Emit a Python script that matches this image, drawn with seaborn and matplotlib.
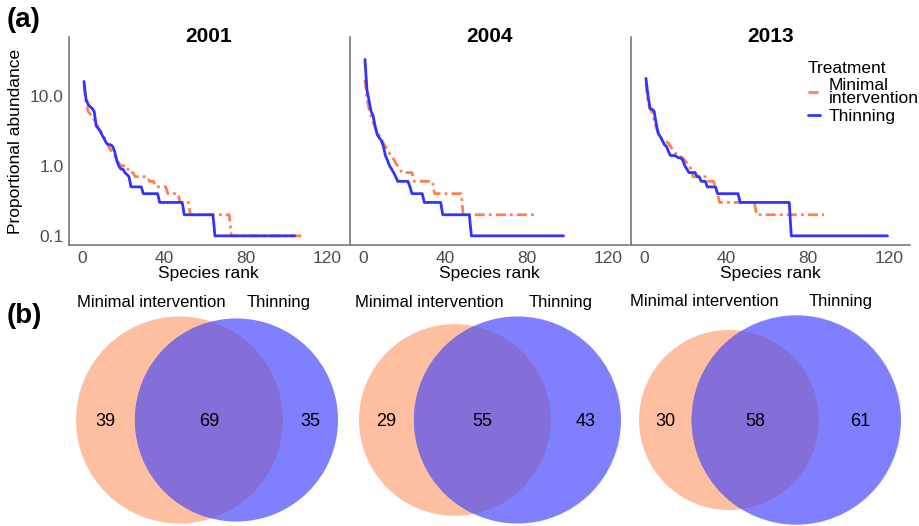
import numpy as np
import pandas as pd
import matplotlib
matplotlib.use("Agg")
import matplotlib.pyplot as plt
from matplotlib.lines import Line2D
from matplotlib.patches import Circle
from matplotlib.ticker import NullLocator
import seaborn as sns

# ==========================
# DATA
# ==========================

years = ["2001", "2004", "2013"]
treatments = ["Minimal intervention", "Thinning"]

# proportional abundance (%) in rank order, stored as a value and
# the number of consecutive species that share it

mi_2001_abund = [14, 8, 6.0, 5.5, 5.2, 4.5, 4.0, 3.5, 3.2, 2.8, 2.5, 2.2, 1.9, 1.7, 1.5, 1.4, 1.2, 1.1,
                 1.0, 0.8, 0.7, 0.6, 0.5, 0.4, 0.3, 0.2, 0.1]
mi_2001_nsp = [1] * 18 + [4, 3, 7, 3, 6, 6, 5, 20, 36]

th_2001_abund = [16, 9.0, 7.5, 7.0, 6.6, 6.0, 3.7, 3.4, 3.1, 2.7, 2.4, 2.1, 2.0, 2.0, 1.9, 1.6, 1.2, 1.0,
                 0.9, 0.9, 0.8, 0.75, 0.7, 0.5, 0.4, 0.3, 0.2, 0.1]
th_2001_nsp = [1] * 23 + [6, 8, 12, 15, 40]

mi_2004_abund = [17, 9, 6.5, 5.0, 4.2, 3.6, 3.1, 2.7, 2.4, 2.1, 1.9, 1.7, 1.5, 1.4, 1.25, 1.1, 1.0, 0.9,
                 0.8, 0.6, 0.4, 0.2]
mi_2004_nsp = [1] * 18 + [6, 10, 14, 36]

th_2004_abund = [33, 12, 8.5, 6.0, 5.2, 3.6, 2.8, 2.5, 2.3, 1.9, 1.4, 1.2, 1.0, 0.9, 0.8, 0.7,
                 0.6, 0.5, 0.4, 0.3, 0.2, 0.1]
th_2004_nsp = [1] * 16 + [6, 1, 6, 9, 14, 46]

mi_2013_abund = [15, 8, 6.5, 5.8, 4.5, 3.5, 3.0, 2.6, 2.4, 2.3, 2.2, 2.1, 1.9, 1.7, 1.55, 1.45, 1.38, 1.35,
                 1.3, 1.2, 1.1, 1.0, 0.9, 0.7, 0.6, 0.5, 0.4, 0.3, 0.2]
mi_2013_nsp = [1] * 23 + [7, 4, 1, 1, 18, 34]

th_2013_abund = [17.7, 10, 6.6, 6.4, 6.0, 4.0, 2.9, 2.6, 2.3, 2.0, 1.9, 1.6, 1.4, 1.4, 1.4, 1.35, 1.3, 1.3,
                 1.2, 1.0, 0.9, 0.8, 0.7, 0.6, 0.5, 0.4, 0.3, 0.1]
th_2013_nsp = [1] * 21 + [4, 2, 3, 5, 11, 25, 48]

# shared species counts for the Venn diagrams
venn_only_mi = [39, 29, 30]
venn_shared = [69, 55, 58]
venn_only_thin = [35, 43, 61]

# ==========================
# BUILD TABLE
# ==========================

series = {
    ("2001", "Minimal intervention"): (mi_2001_abund, mi_2001_nsp),
    ("2001", "Thinning"): (th_2001_abund, th_2001_nsp),
    ("2004", "Minimal intervention"): (mi_2004_abund, mi_2004_nsp),
    ("2004", "Thinning"): (th_2004_abund, th_2004_nsp),
    ("2013", "Minimal intervention"): (mi_2013_abund, mi_2013_nsp),
    ("2013", "Thinning"): (th_2013_abund, th_2013_nsp),
}

frames = []
for (year, treatment), (abund, nsp) in series.items():
    values = np.repeat(abund, nsp)
    frames.append(pd.DataFrame({
        "Year": year,
        "Treatment": treatment,
        "Rank": np.arange(1, len(values) + 1),
        "Abundance": values,
    }))
df = pd.concat(frames, ignore_index=True)

# ==========================
# STYLE
# ==========================

sns.set_style("white")
plt.rcParams["font.family"] = ["Liberation Sans", "DejaVu Sans"]
plt.rcParams["text.color"] = "black"
plt.rcParams["axes.labelcolor"] = "black"

line_colors = {"Minimal intervention": "#FF7F50", "Thinning": "#3333FF"}
line_dashes = {"Minimal intervention": (3.6, 1.5, 1, 1.5), "Thinning": ""}
axis_grey = "#6B6B6B"
tick_grey = "#4D4D4D"

W, H = 919, 526
fig = plt.figure(figsize=(W / 100, H / 100), dpi=100)


def px_axes(left, top, width, height):
    return fig.add_axes([left / W, 1 - (top + height) / H, width / W, height / H])


# ==========================
# (a) RANK ABUNDANCE
# ==========================

panel_left = [69, 350, 631]

for i, year in enumerate(years):
    ax = px_axes(panel_left[i], 37, 279, 208)
    sub = df[df["Year"] == year]
    sns.lineplot(
        data=sub,
        x="Rank",
        y="Abundance",
        hue="Treatment",
        style="Treatment",
        hue_order=treatments,
        style_order=treatments,
        palette=line_colors,
        dashes=line_dashes,
        linewidth=2,
        estimator=None,
        legend=False,
        ax=ax,
    )
    ax.set_yscale("log")
    ax.set_ylim(0.074, 69)
    ax.set_xlim(-6.3, 130)
    ax.set_xticks([0, 40, 80, 120])
    ax.set_yticks([0.1, 1, 10])
    ax.set_yticklabels(["0.1", "1.0", "10.0"])
    ax.yaxis.set_minor_locator(NullLocator())
    for side in ["top", "right"]:
        ax.spines[side].set_visible(False)
    for side in ["left", "bottom"]:
        ax.spines[side].set_color(axis_grey)
        ax.spines[side].set_linewidth(1.1)
    ax.tick_params(axis="both", length=2.5, width=1, color=axis_grey,
                   labelcolor=tick_grey, labelsize=12.5, pad=1.5)
    ax.set_xlabel("Species rank", fontsize=12.5, labelpad=0, color="black")
    if i == 0:
        ax.set_ylabel("Proportional abundance", fontsize=12.5, labelpad=5, color="black")
    else:
        ax.set_ylabel("")
        ax.tick_params(axis="y", left=False, labelleft=False)
    ax.text(0.5, 1.0, year, transform=ax.transAxes, ha="center", va="center",
            fontsize=15, fontweight="bold", color="black")

handles = [
    Line2D([], [], color=line_colors[t], lw=2,
           dashes=(line_dashes[t] if line_dashes[t] else (None, None)))
    for t in treatments
]
handles[1].set_linestyle("-")
leg = fig.legend(
    handles,
    ["Minimal\nintervention", "Thinning"],
    title="Treatment",
    loc="upper left",
    bbox_to_anchor=(799 / W, 1 - 52 / H),
    frameon=False,
    fontsize=12.5,
    title_fontsize=12.5,
    handlelength=0.7,
    handletextpad=0.5,
    labelspacing=0.15,
    borderpad=0,
    alignment="left",
)
for t in leg.get_texts():
    t.set_linespacing(0.85)
    t.set_color("black")
leg.get_title().set_color("black")

fig.text(7 / W, 1 - 20 / H, "(a)", fontsize=20, fontweight="bold", va="center", ha="left")

# ==========================
# (b) VENN DIAGRAMS
# ==========================


def lens_area(d, r1, r2):
    a1 = np.arccos((d * d + r1 * r1 - r2 * r2) / (2 * d * r1))
    a2 = np.arccos((d * d + r2 * r2 - r1 * r1) / (2 * d * r2))
    k = (-d + r1 + r2) * (d + r1 - r2) * (d - r1 + r2) * (d + r1 + r2)
    return r1 * r1 * a1 + r2 * r2 * a2 - 0.5 * np.sqrt(k)


def venn_distance(r1, r2, shared):
    lo, hi = abs(r1 - r2) + 1e-9, r1 + r2 - 1e-9
    for _ in range(80):
        mid = (lo + hi) / 2
        if lens_area(mid, r1, r2) > shared:
            lo = mid
        else:
            hi = mid
    return (lo + hi) / 2


vax = fig.add_axes([0, 0, 1, 1])
vax.set_xlim(0, W)
vax.set_ylim(H, 0)
vax.axis("off")
vax.patch.set_alpha(0)

venn_center = [207, 490, 770]
venn_width = 262
cy = 420

for i in range(3):
    n1 = venn_only_mi[i] + venn_shared[i]
    n2 = venn_only_thin[i] + venn_shared[i]
    r1 = np.sqrt(n1 / np.pi)
    r2 = np.sqrt(n2 / np.pi)
    d = venn_distance(r1, r2, venn_shared[i])
    span = r1 + d + r2
    s = venn_width / span
    x1 = venn_center[i] - venn_width / 2 + r1 * s
    x2 = x1 + d * s
    R1, R2 = r1 * s, r2 * s

    c1 = Circle((x1, cy), R1, fc="#FEBFA1", ec="none")
    c2 = Circle((x2, cy), R2, fc="#8080FF", ec="none")
    c3 = Circle((x2, cy), R2, fc="#846ED8", ec="none")
    vax.add_patch(c1)
    vax.add_patch(c2)
    vax.add_patch(c3)
    c3.set_clip_path(c1)

    vax.text(((x1 - R1) + (x2 - R2)) / 2, cy + 1, str(venn_only_mi[i]),
             ha="center", va="center", fontsize=13)
    vax.text(((x2 - R2) + (x1 + R1)) / 2, cy + 1, str(venn_shared[i]),
             ha="center", va="center", fontsize=13)
    vax.text(((x1 + R1) + (x2 + R2)) / 2, cy + 1, str(venn_only_thin[i]),
             ha="center", va="center", fontsize=13)

    label_y = cy - max(R1, R2) - 14
    vax.text(x1 - 0.27 * R1, label_y, "Minimal intervention",
             ha="center", va="center", fontsize=12)
    vax.text(x2 + 0.42 * R2, label_y, "Thinning",
             ha="center", va="center", fontsize=12)

fig.text(7 / W, 1 - 316 / H, "(b)", fontsize=20, fontweight="bold", va="center", ha="left")

fig.savefig("out.png", dpi=100)
